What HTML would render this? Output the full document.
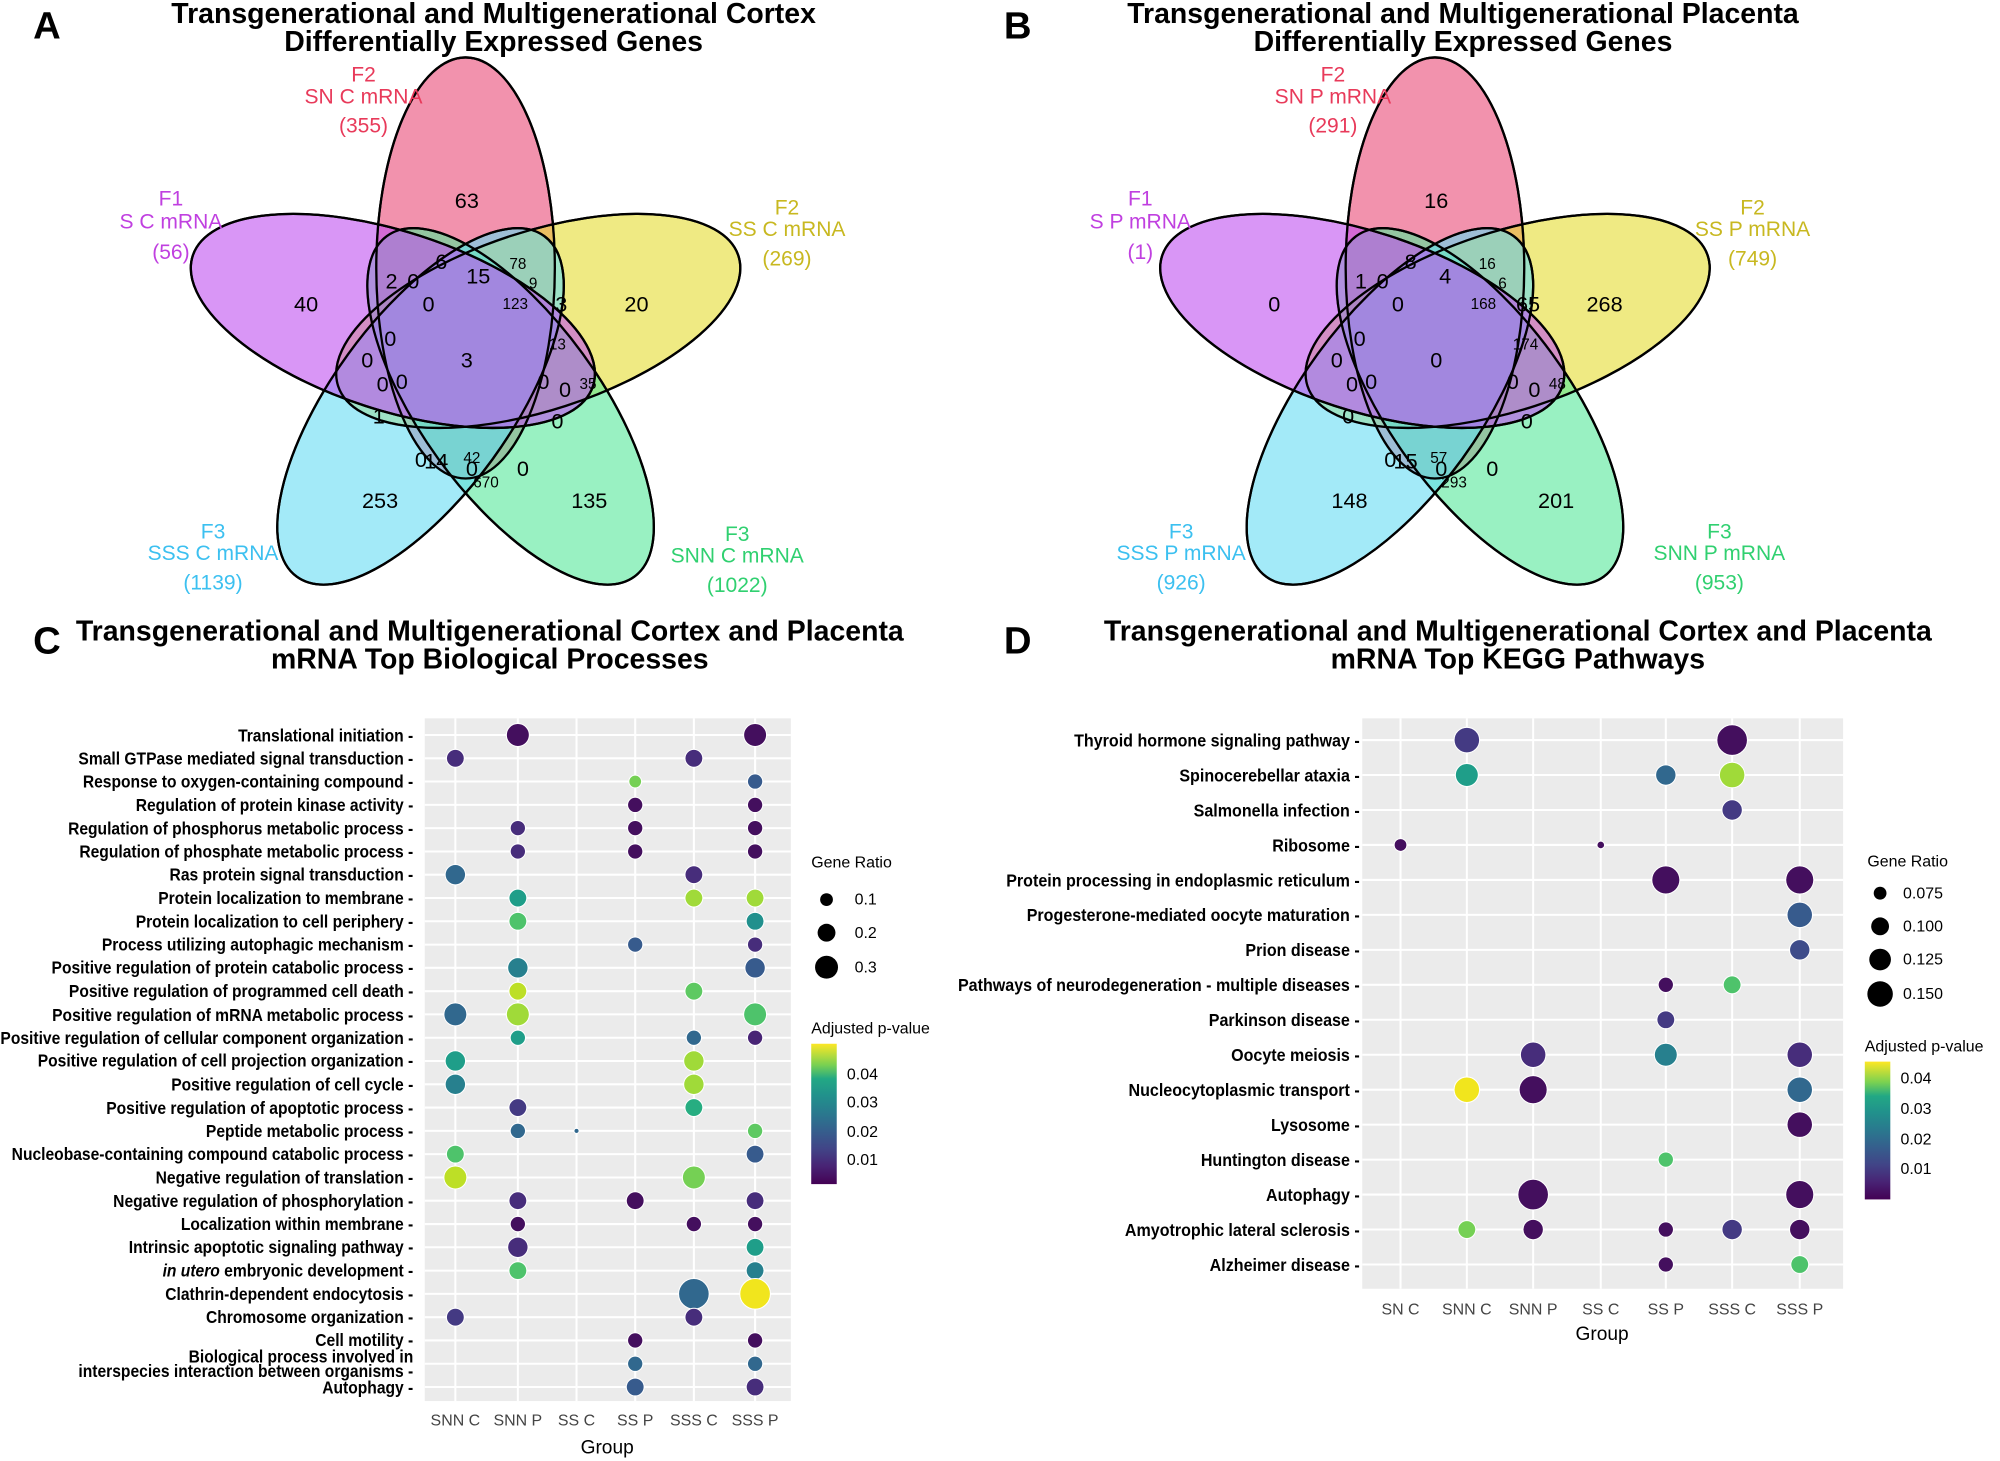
<!DOCTYPE html>
<html><head><meta charset="utf-8"><style>
html,body{margin:0;padding:0;background:#fff}
svg{display:block}
text{font-family:"Liberation Sans",Arial,sans-serif}
.t{font-weight:bold;font-size:22.3px}
.L{font-weight:bold;font-size:30px}
.n{font-size:17px;text-anchor:middle}
.s{font-size:12px;text-anchor:middle}
.lab{font-size:16.5px;text-anchor:middle}
.yl{font-weight:bold;font-size:14px;text-anchor:end}
.xt{font-size:12.5px;text-anchor:middle;fill:#444}
.lg{font-size:12.5px}
.c0{fill:#440f5e}.c1{fill:#482475}.c2{fill:#472d7b}.c3{fill:#443a83}.c4{fill:#3e4c8a}.c5{fill:#375b8d}.c6{fill:#31688e}.c7{fill:#27808e}.c8{fill:#21908d}.c9{fill:#1f9e89}.c10{fill:#27ad81}.c11{fill:#35b779}.c12{fill:#4ec36b}.c13{fill:#5ec962}.c14{fill:#75d054}.c15{fill:#a0da39}.c16{fill:#bddf26}.c17{fill:#f1e51d}
</style></head><body>
<svg width="2000" height="1461" viewBox="0 0 1568 1145" preserveAspectRatio="none" xmlns="http://www.w3.org/2000/svg">
<defs>
<linearGradient id="vir" x1="0" y1="1" x2="0" y2="0">
<stop offset="0" stop-color="#440154"/><stop offset="0.13" stop-color="#482475"/><stop offset="0.25" stop-color="#414487"/><stop offset="0.38" stop-color="#355f8d"/><stop offset="0.5" stop-color="#2a788e"/><stop offset="0.63" stop-color="#21918c"/><stop offset="0.75" stop-color="#22a884"/><stop offset="0.85" stop-color="#7ad151"/><stop offset="1" stop-color="#fde725"/>
</linearGradient>
<g id="venn">
<g fill-opacity="0.6" stroke="#000" stroke-width="1.8">
<ellipse cx="365" cy="210" rx="165" ry="70" transform="rotate(-90 365 210)" fill="#ea4a76"/>
<ellipse cx="422" cy="251.5" rx="165" ry="70" transform="rotate(-18 422 251.5)" fill="#e4dc30"/>
<ellipse cx="400.3" cy="318.5" rx="165" ry="70" transform="rotate(54 400.3 318.5)" fill="#55e89a"/>
<ellipse cx="329.7" cy="318.5" rx="165" ry="70" transform="rotate(126 329.7 318.5)" fill="#66dcf4"/>
<ellipse cx="308" cy="251.5" rx="165" ry="70" transform="rotate(198 308 251.5)" fill="#c050f0"/>
</g>
<g fill="none" stroke="#000" stroke-width="1.8">
<ellipse cx="365" cy="210" rx="165" ry="70" transform="rotate(-90 365 210)"/>
<ellipse cx="422" cy="251.5" rx="165" ry="70" transform="rotate(-18 422 251.5)"/>
<ellipse cx="400.3" cy="318.5" rx="165" ry="70" transform="rotate(54 400.3 318.5)"/>
<ellipse cx="329.7" cy="318.5" rx="165" ry="70" transform="rotate(126 329.7 318.5)"/>
<ellipse cx="308" cy="251.5" rx="165" ry="70" transform="rotate(198 308 251.5)"/>
</g>
</g>
</defs>

<!-- Panel A -->
<text class="L" x="26" y="30">A</text>
<text class="t" x="387" y="18" text-anchor="middle">Transgenerational and Multigenerational Cortex</text>
<text class="t" x="387" y="40" text-anchor="middle">Differentially Expressed Genes</text>
<use href="#venn"/>
<g fill="#e83a5a" class="lab"><text x="285" y="64">F2</text><text x="285" y="81">SN C mRNA</text><text x="285" y="104">(355)</text></g>
<g fill="#c040e0" class="lab"><text x="134" y="161">F1</text><text x="134" y="179">S C mRNA</text><text x="134" y="203">(56)</text></g>
<g fill="#c8b820" class="lab"><text x="617" y="168">F2</text><text x="617" y="185">SS C mRNA</text><text x="617" y="208">(269)</text></g>
<g fill="#3cc0f0" class="lab"><text x="167" y="422">F3</text><text x="167" y="439">SSS C mRNA</text><text x="167" y="462">(1139)</text></g>
<g fill="#30d070" class="lab"><text x="578" y="424">F3</text><text x="578" y="441">SNN C mRNA</text><text x="578" y="464">(1022)</text></g>
<g class="n">
<text x="366" y="163">63</text><text x="240" y="244">40</text><text x="499" y="244">20</text><text x="298" y="398">253</text><text x="462" y="398">135</text><text x="366" y="288">3</text>
<text x="307" y="226">2</text><text x="346" y="211">6</text><text x="375" y="222">15</text><text x="324" y="226">0</text><text x="336" y="244">0</text><text x="440" y="244">3</text>
<text x="288" y="288">0</text><text x="306" y="271">0</text><text x="426" y="305">0</text><text x="443" y="311">0</text><text x="300" y="307">0</text><text x="315" y="305">0</text>
<text x="297" y="332">1</text><text x="330" y="366">0</text><text x="370" y="373">0</text><text x="410" y="373">0</text><text x="437" y="336">0</text><text x="342" y="367">14</text>
</g>
<g class="s"><text x="406" y="211">78</text><text x="404" y="242">123</text><text x="418" y="226">9</text><text x="437" y="274">13</text><text x="461" y="305">35</text><text x="370" y="363">42</text><text x="381" y="382">670</text></g>

<!-- Panel B -->
<text class="L" x="787" y="30">B</text>
<text class="t" x="1147" y="18" text-anchor="middle">Transgenerational and Multigenerational Placenta</text>
<text class="t" x="1147" y="40" text-anchor="middle">Differentially Expressed Genes</text>
<use href="#venn" x="760"/>
<g fill="#e83a5a" class="lab"><text x="1045" y="64">F2</text><text x="1045" y="81">SN P mRNA</text><text x="1045" y="104">(291)</text></g>
<g fill="#c040e0" class="lab"><text x="894" y="161">F1</text><text x="894" y="179">S P mRNA</text><text x="894" y="203">(1)</text></g>
<g fill="#c8b820" class="lab"><text x="1374" y="168">F2</text><text x="1374" y="185">SS P mRNA</text><text x="1374" y="208">(749)</text></g>
<g fill="#3cc0f0" class="lab"><text x="926" y="422">F3</text><text x="926" y="439">SSS P mRNA</text><text x="926" y="462">(926)</text></g>
<g fill="#30d070" class="lab"><text x="1348" y="422">F3</text><text x="1348" y="439">SNN P mRNA</text><text x="1348" y="462">(953)</text></g>
<g class="n">
<text x="1126" y="163">16</text><text x="999" y="244">0</text><text x="1258" y="244">268</text><text x="1058" y="398">148</text><text x="1220" y="398">201</text><text x="1126" y="288">0</text>
<text x="1067" y="226">1</text><text x="1106" y="211">8</text><text x="1133" y="222">4</text><text x="1084" y="226">0</text><text x="1096" y="244">0</text><text x="1198" y="244">65</text>
<text x="1048" y="288">0</text><text x="1066" y="271">0</text><text x="1186" y="305">0</text><text x="1203" y="311">0</text><text x="1060" y="307">0</text><text x="1075" y="305">0</text>
<text x="1057" y="332">0</text><text x="1090" y="366">0</text><text x="1130" y="373">0</text><text x="1170" y="373">0</text><text x="1197" y="336">0</text><text x="1102" y="367">15</text>
</g>
<g class="s"><text x="1166" y="211">16</text><text x="1163" y="242">168</text><text x="1178" y="226">6</text><text x="1196" y="274">174</text><text x="1221" y="305">48</text><text x="1128" y="363">57</text><text x="1140" y="382">293</text></g>

<!-- Panel C -->
<text class="L" x="26" y="512">C</text>
<text class="t" x="384" y="502" text-anchor="middle">Transgenerational and Multigenerational Cortex and Placenta</text>
<text class="t" x="384" y="524" text-anchor="middle">mRNA Top Biological Processes</text>
<rect x="333" y="563" width="287" height="535" fill="#ebebeb"/>
<g stroke="#fff" stroke-width="1.6">
<line x1="357" y1="563" x2="357" y2="1098"/><line x1="406" y1="563" x2="406" y2="1098"/><line x1="452" y1="563" x2="452" y2="1098"/><line x1="498" y1="563" x2="498" y2="1098"/><line x1="544" y1="563" x2="544" y2="1098"/><line x1="592" y1="563" x2="592" y2="1098"/>
<line x1="333" y1="576" x2="620" y2="576"/><line x1="333" y1="594.3" x2="620" y2="594.3"/><line x1="333" y1="612.5" x2="620" y2="612.5"/><line x1="333" y1="630.8" x2="620" y2="630.8"/><line x1="333" y1="649" x2="620" y2="649"/><line x1="333" y1="667.3" x2="620" y2="667.3"/><line x1="333" y1="685.5" x2="620" y2="685.5"/><line x1="333" y1="703.8" x2="620" y2="703.8"/><line x1="333" y1="722" x2="620" y2="722"/><line x1="333" y1="740.3" x2="620" y2="740.3"/><line x1="333" y1="758.5" x2="620" y2="758.5"/><line x1="333" y1="776.8" x2="620" y2="776.8"/><line x1="333" y1="795" x2="620" y2="795"/><line x1="333" y1="813.3" x2="620" y2="813.3"/><line x1="333" y1="831.5" x2="620" y2="831.5"/><line x1="333" y1="849.8" x2="620" y2="849.8"/><line x1="333" y1="868" x2="620" y2="868"/><line x1="333" y1="886.3" x2="620" y2="886.3"/><line x1="333" y1="904.5" x2="620" y2="904.5"/><line x1="333" y1="922.8" x2="620" y2="922.8"/><line x1="333" y1="941" x2="620" y2="941"/><line x1="333" y1="959.3" x2="620" y2="959.3"/><line x1="333" y1="977.5" x2="620" y2="977.5"/><line x1="333" y1="995.8" x2="620" y2="995.8"/><line x1="333" y1="1014" x2="620" y2="1014"/><line x1="333" y1="1032.3" x2="620" y2="1032.3"/><line x1="333" y1="1050.5" x2="620" y2="1050.5"/><line x1="333" y1="1068.8" x2="620" y2="1068.8"/><line x1="333" y1="1087" x2="620" y2="1087"/>
</g>
<g transform="translate(324,0) scale(0.875,1)" class="yl">
<text x="0" y="581">Translational initiation -</text>
<text x="0" y="599">Small GTPase mediated signal transduction -</text>
<text x="0" y="617">Response to oxygen-containing compound -</text>
<text x="0" y="635.5">Regulation of protein kinase activity -</text>
<text x="0" y="654">Regulation of phosphorus metabolic process -</text>
<text x="0" y="672">Regulation of phosphate metabolic process -</text>
<text x="0" y="690">Ras protein signal transduction -</text>
<text x="0" y="708.5">Protein localization to membrane -</text>
<text x="0" y="727">Protein localization to cell periphery -</text>
<text x="0" y="745">Process utilizing autophagic mechanism -</text>
<text x="0" y="763">Positive regulation of protein catabolic process -</text>
<text x="0" y="781.5">Positive regulation of programmed cell death -</text>
<text x="0" y="800">Positive regulation of mRNA metabolic process -</text>
<text x="0" y="818">Positive regulation of cellular component organization -</text>
<text x="0" y="836">Positive regulation of cell projection organization -</text>
<text x="0" y="854.5">Positive regulation of cell cycle -</text>
<text x="0" y="873">Positive regulation of apoptotic process -</text>
<text x="0" y="891">Peptide metabolic process -</text>
<text x="0" y="909">Nucleobase-containing compound catabolic process -</text>
<text x="0" y="927.5">Negative regulation of translation -</text>
<text x="0" y="946">Negative regulation of phosphorylation -</text>
<text x="0" y="964">Localization within membrane -</text>
<text x="0" y="982">Intrinsic apoptotic signaling pathway -</text>
<text x="0" y="1000.5"><tspan font-style="italic">in utero</tspan> embryonic development -</text>
<text x="0" y="1019">Clathrin-dependent endocytosis -</text>
<text x="0" y="1037">Chromosome organization -</text>
<text x="0" y="1055">Cell motility -</text>
<text x="0" y="1068">Biological process involved in</text>
<text x="0" y="1079">interspecies interaction between organisms -</text>
<text x="0" y="1092">Autophagy -</text>
</g>
<g stroke="#fff" stroke-width="0.8">
<circle class="c0" cx="406" cy="576" r="9"/><circle class="c0" cx="592" cy="576" r="9"/>
<circle class="c2" cx="357" cy="594.3" r="7"/><circle class="c2" cx="544" cy="594.3" r="7"/>
<circle class="c14" cx="498" cy="612.5" r="5"/><circle class="c5" cx="592" cy="612.5" r="6"/>
<circle class="c0" cx="498" cy="630.8" r="6"/><circle class="c0" cx="592" cy="630.8" r="6"/>
<circle class="c2" cx="406" cy="649" r="6"/><circle class="c0" cx="498" cy="649" r="6"/><circle class="c0" cx="592" cy="649" r="6"/>
<circle class="c2" cx="406" cy="667.3" r="6"/><circle class="c0" cx="498" cy="667.3" r="6"/><circle class="c0" cx="592" cy="667.3" r="6"/>
<circle class="c6" cx="357" cy="685.5" r="8"/><circle class="c2" cx="544" cy="685.5" r="7"/>
<circle class="c9" cx="406" cy="703.8" r="7"/><circle class="c15" cx="544" cy="703.8" r="7"/><circle class="c15" cx="592" cy="703.8" r="7"/>
<circle class="c12" cx="406" cy="722" r="7"/><circle class="c8" cx="592" cy="722" r="7"/>
<circle class="c5" cx="498" cy="740.3" r="6"/><circle class="c2" cx="592" cy="740.3" r="6"/>
<circle class="c7" cx="406" cy="758.5" r="8"/><circle class="c5" cx="592" cy="758.5" r="8"/>
<circle class="c16" cx="406" cy="776.8" r="7"/><circle class="c13" cx="544" cy="776.8" r="7"/>
<circle class="c6" cx="357" cy="795" r="9"/><circle class="c15" cx="406" cy="795" r="9"/><circle class="c12" cx="592" cy="795" r="9"/>
<circle class="c9" cx="406" cy="813.3" r="6"/><circle class="c6" cx="544" cy="813.3" r="6"/><circle class="c1" cx="592" cy="813.3" r="6"/>
<circle class="c9" cx="357" cy="831.5" r="8"/><circle class="c15" cx="544" cy="831.5" r="8"/>
<circle class="c7" cx="357" cy="849.8" r="8"/><circle class="c15" cx="544" cy="849.8" r="8"/>
<circle class="c3" cx="406" cy="868" r="7"/><circle class="c10" cx="544" cy="868" r="7"/>
<circle class="c6" cx="406" cy="886.3" r="6"/><circle class="c6" cx="452" cy="886.3" r="2"/><circle class="c13" cx="592" cy="886.3" r="6"/>
<circle class="c12" cx="357" cy="904.5" r="7"/><circle class="c5" cx="592" cy="904.5" r="7"/>
<circle class="c16" cx="357" cy="922.8" r="9"/><circle class="c14" cx="544" cy="922.8" r="9"/>
<circle class="c2" cx="406" cy="941" r="7"/><circle class="c0" cx="498" cy="941" r="7"/><circle class="c2" cx="592" cy="941" r="7"/>
<circle class="c0" cx="406" cy="959.3" r="6"/><circle class="c0" cx="544" cy="959.3" r="6"/><circle class="c0" cx="592" cy="959.3" r="6"/>
<circle class="c2" cx="406" cy="977.5" r="8"/><circle class="c9" cx="592" cy="977.5" r="7"/>
<circle class="c12" cx="406" cy="995.8" r="7"/><circle class="c7" cx="592" cy="995.8" r="7"/>
<circle class="c6" cx="544" cy="1014" r="12"/><circle class="c17" cx="592" cy="1014" r="12"/>
<circle class="c3" cx="357" cy="1032.3" r="7"/><circle class="c2" cx="544" cy="1032.3" r="7"/>
<circle class="c0" cx="498" cy="1050.5" r="6"/><circle class="c0" cx="592" cy="1050.5" r="6"/>
<circle class="c6" cx="498" cy="1068.8" r="6"/><circle class="c6" cx="592" cy="1068.8" r="6"/>
<circle class="c5" cx="498" cy="1087" r="7"/><circle class="c2" cx="592" cy="1087" r="7"/>
</g>
<g class="xt"><text x="357" y="1117">SNN C</text><text x="406" y="1117">SNN P</text><text x="452" y="1117">SS C</text><text x="498" y="1117">SS P</text><text x="544" y="1117">SSS C</text><text x="592" y="1117">SSS P</text></g>
<text x="476" y="1139" text-anchor="middle" font-size="15">Group</text>
<text class="lg" x="636" y="680">Gene Ratio</text>
<circle cx="648" cy="705" r="5"/><circle cx="648" cy="731" r="7"/><circle cx="648" cy="758" r="9"/>
<g class="lg"><text x="670" y="709">0.1</text><text x="670" y="735">0.2</text><text x="670" y="762">0.3</text></g>
<text class="lg" x="636" y="810">Adjusted p-value</text>
<rect x="636" y="818" width="20" height="110" fill="url(#vir)"/>
<g class="lg" font-size="11"><text x="664" y="846">0.04</text><text x="664" y="868">0.03</text><text x="664" y="891">0.02</text><text x="664" y="913">0.01</text></g>

<!-- Panel D -->
<text class="L" x="787" y="512">D</text>
<text class="t" x="1190" y="502" text-anchor="middle">Transgenerational and Multigenerational Cortex and Placenta</text>
<text class="t" x="1190" y="524" text-anchor="middle">mRNA Top KEGG Pathways</text>
<rect x="1068" y="563" width="377" height="447" fill="#ebebeb"/>
<g stroke="#fff" stroke-width="1.6">
<line x1="1098" y1="563" x2="1098" y2="1010"/><line x1="1150" y1="563" x2="1150" y2="1010"/><line x1="1202" y1="563" x2="1202" y2="1010"/><line x1="1255" y1="563" x2="1255" y2="1010"/><line x1="1306" y1="563" x2="1306" y2="1010"/><line x1="1358" y1="563" x2="1358" y2="1010"/><line x1="1411" y1="563" x2="1411" y2="1010"/>
<line x1="1068" y1="580" x2="1445" y2="580"/><line x1="1068" y1="607.4" x2="1445" y2="607.4"/><line x1="1068" y1="634.8" x2="1445" y2="634.8"/><line x1="1068" y1="662.2" x2="1445" y2="662.2"/><line x1="1068" y1="689.6" x2="1445" y2="689.6"/><line x1="1068" y1="717" x2="1445" y2="717"/><line x1="1068" y1="744.4" x2="1445" y2="744.4"/><line x1="1068" y1="771.8" x2="1445" y2="771.8"/><line x1="1068" y1="799.2" x2="1445" y2="799.2"/><line x1="1068" y1="826.6" x2="1445" y2="826.6"/><line x1="1068" y1="854" x2="1445" y2="854"/><line x1="1068" y1="881.4" x2="1445" y2="881.4"/><line x1="1068" y1="908.8" x2="1445" y2="908.8"/><line x1="1068" y1="936.2" x2="1445" y2="936.2"/><line x1="1068" y1="963.6" x2="1445" y2="963.6"/><line x1="1068" y1="991" x2="1445" y2="991"/>
</g>
<g transform="translate(1066,0) scale(0.9,1)" class="yl">
<text x="0" y="585">Thyroid hormone signaling pathway -</text>
<text x="0" y="612.4">Spinocerebellar ataxia -</text>
<text x="0" y="639.8">Salmonella infection -</text>
<text x="0" y="667.2">Ribosome -</text>
<text x="0" y="694.6">Protein processing in endoplasmic reticulum -</text>
<text x="0" y="722">Progesterone-mediated oocyte maturation -</text>
<text x="0" y="749.4">Prion disease -</text>
<text x="0" y="776.8">Pathways of neurodegeneration - multiple diseases -</text>
<text x="0" y="804.2">Parkinson disease -</text>
<text x="0" y="831.6">Oocyte meiosis -</text>
<text x="0" y="859">Nucleocytoplasmic transport -</text>
<text x="0" y="886.4">Lysosome -</text>
<text x="0" y="913.8">Huntington disease -</text>
<text x="0" y="941.2">Autophagy -</text>
<text x="0" y="968.6">Amyotrophic lateral sclerosis -</text>
<text x="0" y="996">Alzheimer disease -</text>
</g>
<g stroke="#fff" stroke-width="0.8">
<circle class="c3" cx="1150" cy="580" r="10"/><circle class="c0" cx="1358" cy="580" r="12"/>
<circle class="c9" cx="1150" cy="607.4" r="9"/><circle class="c6" cx="1306" cy="607.4" r="8"/><circle class="c15" cx="1358" cy="607.4" r="10"/>
<circle class="c3" cx="1358" cy="634.8" r="8"/>
<circle class="c0" cx="1098" cy="662.2" r="5"/><circle class="c0" cx="1255" cy="662.2" r="3"/>
<circle class="c0" cx="1306" cy="689.6" r="11"/><circle class="c0" cx="1411" cy="689.6" r="11"/>
<circle class="c5" cx="1411" cy="717" r="10"/>
<circle class="c4" cx="1411" cy="744.4" r="8"/>
<circle class="c0" cx="1306" cy="771.8" r="6"/><circle class="c12" cx="1358" cy="771.8" r="7"/>
<circle class="c3" cx="1306" cy="799.2" r="7"/>
<circle class="c2" cx="1202" cy="826.6" r="10"/><circle class="c7" cx="1306" cy="826.6" r="9"/><circle class="c2" cx="1411" cy="826.6" r="10"/>
<circle class="c17" cx="1150" cy="854" r="10"/><circle class="c0" cx="1202" cy="854" r="11"/><circle class="c6" cx="1411" cy="854" r="10"/>
<circle class="c0" cx="1411" cy="881.4" r="10"/>
<circle class="c12" cx="1306" cy="908.8" r="6"/>
<circle class="c0" cx="1202" cy="936.2" r="12"/><circle class="c0" cx="1411" cy="936.2" r="11"/>
<circle class="c14" cx="1150" cy="963.6" r="7"/><circle class="c0" cx="1202" cy="963.6" r="8"/><circle class="c0" cx="1306" cy="963.6" r="6"/><circle class="c3" cx="1358" cy="963.6" r="8"/><circle class="c0" cx="1411" cy="963.6" r="8"/>
<circle class="c0" cx="1306" cy="991" r="6"/><circle class="c12" cx="1411" cy="991" r="7"/>
</g>
<g class="xt"><text x="1098" y="1030">SN C</text><text x="1150" y="1030">SNN C</text><text x="1202" y="1030">SNN P</text><text x="1255" y="1030">SS C</text><text x="1306" y="1030">SS P</text><text x="1358" y="1030">SSS C</text><text x="1411" y="1030">SSS P</text></g>
<text x="1256" y="1050" text-anchor="middle" font-size="15">Group</text>
<text class="lg" x="1464" y="679">Gene Ratio</text>
<circle cx="1474" cy="700" r="5"/><circle cx="1474" cy="726" r="7"/><circle cx="1474" cy="752" r="8.5"/><circle cx="1474" cy="779" r="10"/>
<g class="lg"><text x="1492" y="704">0.075</text><text x="1492" y="730">0.100</text><text x="1492" y="756">0.125</text><text x="1492" y="783">0.150</text></g>
<text class="lg" x="1462" y="824">Adjusted p-value</text>
<rect x="1462" y="832" width="20" height="108" fill="url(#vir)"/>
<g class="lg" font-size="11"><text x="1490" y="849">0.04</text><text x="1490" y="873">0.03</text><text x="1490" y="897">0.02</text><text x="1490" y="920">0.01</text></g>
</svg>
</body></html>
